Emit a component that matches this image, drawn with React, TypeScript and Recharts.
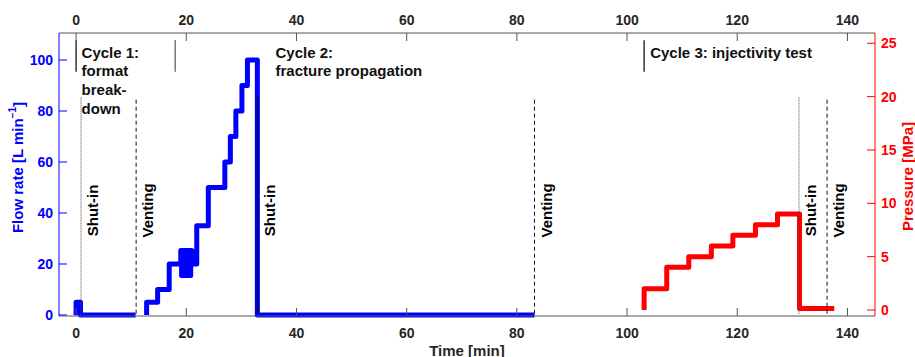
import { LineChart, Line, XAxis, YAxis, ReferenceLine, ReferenceDot, Label } from "recharts";

const FONT = "Arial, 'Liberation Sans', Helvetica, sans-serif";

// flow rate [L/min] at each step change (stepAfter), null = no record
const flowTimes = [
  0, 0, 0.8, 10.8, 11.8, 12.8, 12.8, 14.8, 16.9,
  19.0, 19.15, 19.3, 19.45, 19.6, 19.75, 19.9, 20.05, 20.2, 20.35, 20.5, 20.65, 20.8,
  21.0, 21.9, 24.0, 27.0, 28.0, 29.0, 30.1, 31.1, 32.9, 83.2,
];
const flowRates = [
  0, 5, 0, 0, null, 0, 5, 10, 20,
  25.3, 15.5, 25.3, 15.5, 25.3, 15.5, 25.3, 15.5, 25.3, 15.5, 25.3, 15.5, 25.3,
  20, 35, 50, 60, 70, 80, 90, 100, 0, 0,
];

// pressure [MPa] during the injectivity test
const pressureTimes = [103.1, 103.1, 107.2, 111.2, 115.3, 119.2, 123.3, 127.3, 131.3, 137.6];
const pressures = [0, 2, 4, 5, 6, 7, 8, 9, 0.15, 0.15];

// phase markers
const phaseTimes = [0.9, 10.9, 33, 83.2, 131.2, 136.3];
const phaseLabels = ["Shut-in", "Venting", "Shut-in", "Venting", "Shut-in", "Venting"];

// cycle markers and captions
const cycleMarkTimes = [0, 18, 103.1];
const cycleTimes = [1.0, 36.2, 104.2];
const cycleCaptions = [
  ["Cycle 1:", "format", "break-", "down"],
  ["Cycle 2:", "fracture propagation"],
  ["Cycle 3: injectivity test"],
];

const timeTicks = [0, 20, 40, 60, 80, 100, 120, 140];
const flowTicks = [0, 20, 40, 60, 80, 100];
const pressureTicks = [0, 5, 10, 15, 20, 25];

const flowData = flowTimes.map((t, i) => ({ t, flow: flowRates[i] }));
const pressureData = pressureTimes.map((t, i) => ({ t, pressure: pressures[i] }));

const BLUE = "#0000ff";
const RED = "#ff0000";
const GREY = "#555555";
const TXT = "#262626";

const tickStyle = (fill: string) => ({ fill, fontSize: 14, fontWeight: 700, fontFamily: FONT });

export default function App() {
  return (
    <div style={{ position: "absolute", left: 0, top: 0 }}>
      <LineChart width={915} height={357} margin={{ top: 0, right: 0, bottom: 0, left: 0 }}>
        <XAxis
          xAxisId="bottom"
          orientation="bottom"
          type="number"
          dataKey="t"
          domain={[-3.1, 145]}
          ticks={timeTicks}
          interval={0}
          height={41}
          stroke={GREY}
          tickSize={-8}
          tickMargin={20}
          tick={tickStyle(TXT)}
        >
          <Label
            content={(p: any) => (
              <text
                x={p.viewBox.x + p.viewBox.width / 2}
                y={p.viewBox.y + 34}
                textAnchor="middle"
                dominantBaseline="central"
                fill={TXT}
                fontSize={15}
                fontWeight={700}
                fontFamily={FONT}
              >
                Time [min]
              </text>
            )}
          />
        </XAxis>
        {/* same time axis mirrored on top; the pressure series is bound to it */}
        <XAxis
          xAxisId="top"
          orientation="top"
          type="number"
          dataKey="t"
          domain={[-3.1, 145]}
          ticks={timeTicks}
          interval={0}
          height={33}
          stroke={GREY}
          tickSize={-8}
          tickMargin={16}
          tick={tickStyle(TXT)}
        />
        <YAxis
          yAxisId="flow"
          orientation="left"
          type="number"
          domain={[-0.4, 110.6]}
          ticks={flowTicks}
          interval={0}
          width={59}
          stroke={BLUE}
          tickSize={-8}
          tickMargin={14}
          tick={tickStyle(BLUE)}
        >
          <Label
            content={(p: any) => {
              const x = p.viewBox.x + 17.5;
              const y = p.viewBox.y + p.viewBox.height / 2 - 7;
              return (
                <text
                  x={x}
                  y={y}
                  transform={`rotate(-90 ${x} ${y})`}
                  textAnchor="middle"
                  dominantBaseline="central"
                  fill={BLUE}
                  fontSize={15}
                  fontWeight={700}
                  fontFamily={FONT}
                >
                  Flow rate [L min
                  <tspan fontSize={10} dy={-6}>
                    −1
                  </tspan>
                  <tspan dy={6}>]</tspan>
                </text>
              );
            }}
          />
        </YAxis>
        <YAxis
          yAxisId="pres"
          orientation="right"
          type="number"
          domain={[-0.56, 25.96]}
          ticks={pressureTicks}
          interval={0}
          width={40}
          stroke={RED}
          tickSize={-8}
          tickMargin={14}
          tick={tickStyle(RED)}
        >
          <Label
            content={(p: any) => {
              const x = p.viewBox.x + 32.5;
              const y = p.viewBox.y + p.viewBox.height / 2 + 2;
              return (
                <text
                  x={x}
                  y={y}
                  transform={`rotate(-90 ${x} ${y})`}
                  textAnchor="middle"
                  dominantBaseline="central"
                  fill={RED}
                  fontSize={15}
                  fontWeight={700}
                  fontFamily={FONT}
                >
                  Pressure [MPa]
                </text>
              );
            }}
          />
        </YAxis>

        <Line
          data={flowData}
          xAxisId="bottom"
          yAxisId="flow"
          dataKey="flow"
          type="stepAfter"
          stroke={BLUE}
          strokeWidth={5}
          strokeLinejoin="round"
          dot={false}
          activeDot={false}
          connectNulls={false}
          isAnimationActive={false}
        />
        <Line
          data={pressureData}
          xAxisId="top"
          yAxisId="pres"
          dataKey="pressure"
          type="stepAfter"
          stroke={RED}
          strokeWidth={5}
          strokeLinejoin="round"
          dot={false}
          activeDot={false}
          isAnimationActive={false}
        />

        {phaseTimes.map((t, i) => (
          <ReferenceLine
            key={`ph${i}`}
            xAxisId="bottom"
            yAxisId="flow"
            segment={[
              { x: t, y: 0.5 },
              { x: t, y: 85.5 },
            ]}
            stroke={phaseLabels[i] === "Venting" ? "#111" : i === 2 ? "#000" : "#444"}
            strokeWidth={1}
            strokeDasharray={phaseLabels[i] === "Venting" ? "4 3" : i === 2 ? undefined : "1 1"}
          />
        ))}
        {cycleMarkTimes.map((t, i) => (
          <ReferenceLine
            key={`cm${i}`}
            xAxisId="bottom"
            yAxisId="flow"
            segment={[
              { x: t, y: 95.4 },
              { x: t, y: 107.8 },
            ]}
            stroke={i === 1 ? "#777" : "#333"}
            strokeWidth={1.5}
          />
        ))}
        {phaseTimes.map((t, i) => (
          <ReferenceDot
            key={`pl${i}`}
            xAxisId="bottom"
            yAxisId="flow"
            x={t + 2.1}
            y={41}
            r={0}
            shape={(p: any) => (
              <text
                x={p.cx}
                y={p.cy}
                transform={`rotate(-90 ${p.cx} ${p.cy})`}
                textAnchor="middle"
                dominantBaseline="central"
                fill="#000"
                fontSize={15}
                fontWeight={700}
                fontFamily={FONT}
              >
                {phaseLabels[i]}
              </text>
            )}
          />
        ))}
        {cycleTimes.map((t, i) => (
          <ReferenceDot
            key={`cc${i}`}
            xAxisId="bottom"
            yAxisId="flow"
            x={t}
            y={103.2}
            r={0}
            shape={(p: any) => (
              <text
                x={p.cx}
                y={p.cy}
                textAnchor="start"
                dominantBaseline="central"
                fill="#111"
                fontSize={15}
                fontWeight={700}
                fontFamily={FONT}
              >
                {cycleCaptions[i].map((line, k) => (
                  <tspan key={k} x={p.cx} dy={k === 0 ? 0 : 18.6}>
                    {line}
                  </tspan>
                ))}
              </text>
            )}
          />
        ))}
      </LineChart>
    </div>
  );
}
